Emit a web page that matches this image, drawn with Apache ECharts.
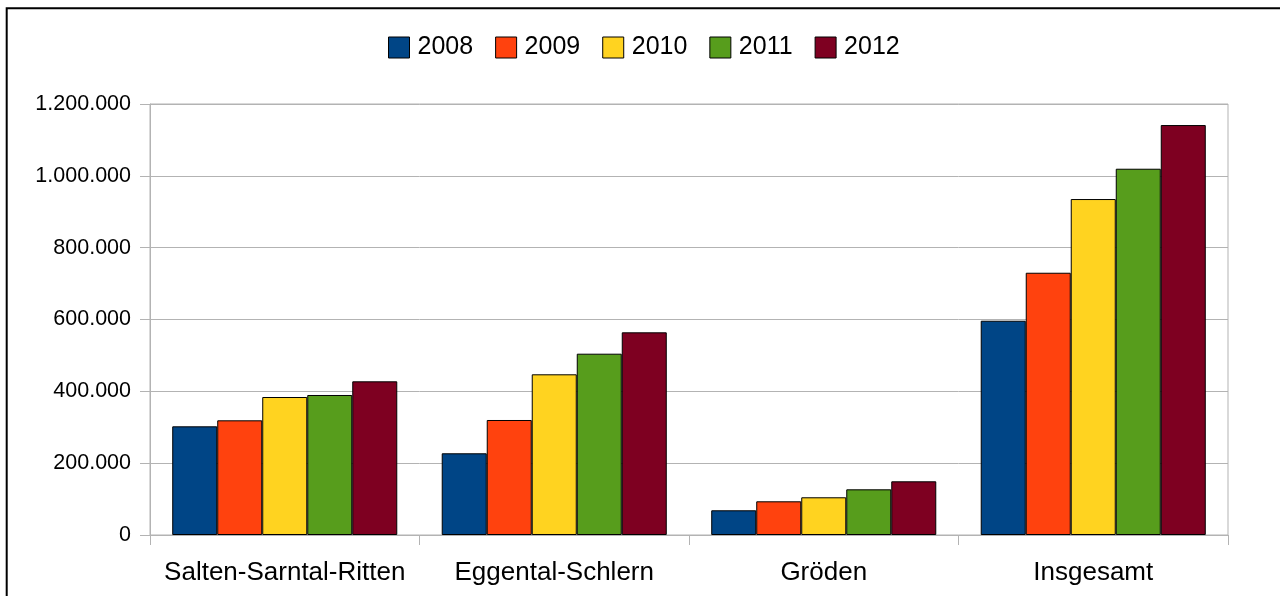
<!DOCTYPE html>
<html>
<head>
<meta charset="utf-8">
<script src="https://cdn.jsdelivr.net/npm/echarts@6/dist/echarts.min.js"></script>
<style>
html,body{margin:0;padding:0;background:#fff;}
#chart{width:1280px;height:596px;}
</style>
</head>
<body>
<div id="chart"></div>
<script>
const categories = ['Salten-Sarntal-Ritten', 'Eggental-Schlern', 'Gröden', 'Insgesamt'];
const years = ['2008', '2009', '2010', '2011', '2012'];
const colors = ['#004586', '#ff420e', '#ffd320', '#579d1c', '#7e0021'];
const v2008 = [302600, 227500, 68800, 596600];
const v2009 = [319300, 320200, 93800, 730200];
const v2010 = [384200, 447400, 105000, 935400];
const v2011 = [389800, 504800, 127200, 1019800];
const v2012 = [427900, 564300, 149500, 1141400];
const seriesValues = [v2008, v2009, v2010, v2011, v2012];
const yMin = 0, yMax = 1200000, yInterval = 200000;

const fmt = v => String(v).replace(/\B(?=(\d{3})+(?!\d))/g, '.');
const font = 'Liberation Sans, Arial, sans-serif';

const chart = echarts.init(document.getElementById('chart'), null, {renderer: 'canvas'});
chart.setOption({
  animation: false,
  backgroundColor: '#fff',
  graphic: [{
    type: 'rect',
    shape: {x: 6.7, y: 8.3, width: 1400, height: 700},
    style: {fill: 'none', stroke: '#000', lineWidth: 2},
    silent: true
  }],
  legend: {
    data: years,
    left: 388,
    top: 35,
    padding: 0,
    itemWidth: 21,
    itemHeight: 21,
    itemGap: 22,
    icon: 'rect',
    textStyle: {fontFamily: font, fontSize: 25, color: '#000', padding: [0, 0, 0, 3]},
    itemStyle: {borderColor: '#000', borderWidth: 1}
  },
  grid: {
    left: 150, right: 52, top: 104, bottom: 61,
    show: true, borderColor: '#b3b3b3', borderWidth: 1, containLabel: false
  },
  xAxis: {
    type: 'category',
    data: categories,
    boundaryGap: true,
    axisLine: {show: true, lineStyle: {color: '#b3b3b3', width: 1}},
    axisTick: {show: true, length: 10, interval: 0, alignWithLabel: false, lineStyle: {color: '#b3b3b3'}},
    axisLabel: {fontFamily: font, fontSize: 26, color: '#000', margin: 25, interval: 0},
    splitLine: {show: false}
  },
  yAxis: {
    type: 'value',
    min: yMin, max: yMax, interval: yInterval,
    axisLine: {show: true, lineStyle: {color: '#b3b3b3', width: 1}},
    axisTick: {show: true, length: 10, lineStyle: {color: '#b3b3b3'}},
    axisLabel: {fontFamily: font, fontSize: 21.5, color: '#000', margin: 19, formatter: fmt},
    splitLine: {show: true, lineStyle: {color: '#b3b3b3', width: 1}}
  },
  series: years.map((y, i) => ({
    name: y,
    type: 'bar',
    data: seriesValues[i],
    barGap: '0%',
    barCategoryGap: '16.5%',
    itemStyle: {color: colors[i], borderColor: '#000', borderWidth: 1}
  }))
});
</script>
</body>
</html>
